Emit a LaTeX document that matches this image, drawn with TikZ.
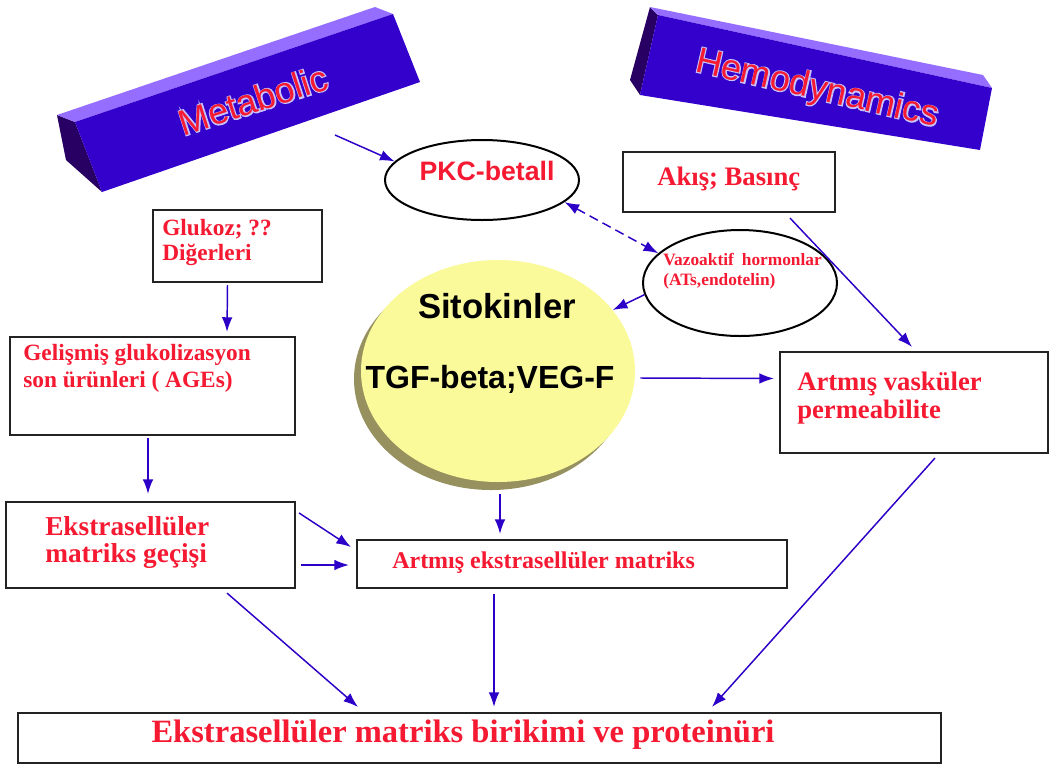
\documentclass[tikz,border=0pt]{standalone}
\usepackage{fontspec}
\setmainfont{Liberation Serif}
\newfontfamily\arialf{Liberation Sans}
\newfontfamily\arialhalo{Liberation Sans}[FakeBold=6]
\usetikzlibrary{arrows.meta,shapes.geometric,calc,fit}
\definecolor{tred}{RGB}{245,25,50}
\definecolor{arrc}{RGB}{45,0,200}
\definecolor{boxc}{RGB}{35,35,35}
\definecolor{barfront}{RGB}{51,0,204}
\definecolor{bartop}{RGB}{150,110,255}
\definecolor{bardark}{RGB}{40,0,100}
\definecolor{yel}{RGB}{250,250,155}
\definecolor{shad}{RGB}{150,145,95}
\definecolor{glow}{RGB}{200,195,255}
\begin{document}
\begin{tikzpicture}[x=0.75pt,y=-0.75pt,
  box/.style={draw=boxc, line width=1.6pt, rectangle, inner sep=0pt},
  ell/.style={draw=black, line width=1.5pt, ellipse, inner sep=0pt},
  arr/.style={draw=arrc, line width=1.1pt, -{Latex[length=11pt,width=8pt]}},
  lbl/.style={text=tred, inner sep=0pt, anchor=base west, font=\bfseries},
  bartxt/.style={inner sep=0pt, font=\arialf\fontsize{27pt}{30pt}\selectfont},
  halotxt/.style={inner sep=0pt, text=glow, font=\arialhalo\fontsize{27pt}{30pt}\selectfont}]
\useasboundingbox (0,0) rectangle (1051,765);
\fill[white] (0,0) rectangle (1051,765);

% ---- Metabolic bar
\fill[bardark] (57,115) -- (75,122) -- (102,192) -- (66,160) -- cycle;
\fill[bartop] (57,115) -- (375,7) -- (393,14) -- (75,122) -- cycle;
\fill[barfront] (75,122) -- (393,14) -- (420,82) -- (102,192) -- cycle;
\node[halotxt, rotate=18] (metabolichalo) at (253,100) {Metabolic};
\node[bartxt, rotate=18, text=tred] (metabolic) at (253,100) {Metabolic};

% ---- Hemodynamics bar
\fill[bardark] (650,7) -- (658,15) -- (640,95) -- (630,80) -- cycle;
\fill[bartop] (650,7) -- (983,75) -- (992,88) -- (658,15) -- cycle;
\fill[barfront] (658,15) -- (992,88) -- (980,150) -- (640,95) -- cycle;
\node[halotxt, rotate=-13] (hemohalo) at (817,90) {Hemodynamics};
\node[bartxt, rotate=-13, text=tred] (hemo) at (817,90) {Hemodynamics};

% ---- Ellipses
\node[ell, minimum width=194*0.75pt, minimum height=80*0.75pt] (pkc) at (482,180) {};
\node[inner sep=0pt, anchor=base, text=tred, font=\arialf\bfseries\fontsize{20pt}{24pt}\selectfont] (pkct) at (487,180) {PKC-betall};
\node[ell, minimum width=194*0.75pt, minimum height=106*0.75pt] (vazo) at (740,283) {};
\node[lbl, font=\bfseries\fontsize{13pt}{15pt}\selectfont] (vazo1) at (663,265) {Vazoaktif\hspace{6pt}hormonlar};
\node[lbl, font=\bfseries\fontsize{13pt}{15pt}\selectfont] (vazo2) at (663,285) {(ATs,endotelin)};

% ---- Sitokinler circle
\node[ellipse, fill=shad, inner sep=0pt, minimum width=274*0.75pt, minimum height=222*0.75pt] (sitoshadow) at (491,379) {};
\node[ellipse, fill=yel, inner sep=0pt, minimum width=274*0.75pt, minimum height=222*0.75pt] (sito) at (498,371) {};
\node[inner sep=0pt, anchor=base, font=\arialf\bfseries\fontsize{26pt}{30pt}\selectfont] (sito1) at (497,318) {Sitokinler};
\node[inner sep=0pt, anchor=base, font=\arialf\bfseries\fontsize{24pt}{28pt}\selectfont] (sito2) at (490,388) {TGF-beta;VEG-F};

% ---- Boxes
\node[box, fit={(623,152)(835,212)}] (akis) {};
\node[lbl, font=\bfseries\fontsize{20pt}{24pt}\selectfont] (akist) at (657,185) {Akış; Basınç};

\node[box, fit={(153,210)(322,282)}] (gluk) {};
\node[lbl, font=\bfseries\fontsize{17.5pt}{20pt}\selectfont] (gluk1) at (162,235) {Glukoz; ??};
\node[lbl, font=\bfseries\fontsize{17.5pt}{20pt}\selectfont] (gluk2) at (162,260) {Diğerleri};

\node[box, fit={(10,337)(295,435)}] (gel) {};
\node[lbl, font=\bfseries\fontsize{17.5pt}{20pt}\selectfont] (gel1) at (23,360) {Gelişmiş glukolizasyon};
\node[lbl, font=\bfseries\fontsize{17.5pt}{20pt}\selectfont] (gel2) at (23,387) {son ürünleri ( AGEs)};

\node[box, fit={(780,352)(1048,453)}] (perm) {};
\node[lbl, font=\bfseries\fontsize{20pt}{24pt}\selectfont] (perm1) at (797,390) {Artmış vasküler};
\node[lbl, font=\bfseries\fontsize{20pt}{24pt}\selectfont] (perm2) at (797,418) {permeabilite};

\node[box, fit={(6,502)(295,588)}] (gecis) {};
\node[lbl, font=\bfseries\fontsize{20.5pt}{24pt}\selectfont] (gecis1) at (45,535) {Ekstrasellüler};
\node[lbl, font=\bfseries\fontsize{20.5pt}{24pt}\selectfont] (gecis2) at (45,562) {matriks geçişi};

\node[box, fit={(357,540)(787,588)}] (artm) {};
\node[lbl, font=\bfseries\fontsize{18pt}{22pt}\selectfont] (artmt) at (392,568) {Artmış ekstrasellüler matriks};

\node[box, fit={(18,713)(941,763)}] (bottom) {};
\node[lbl, anchor=base, font=\bfseries\fontsize{24.4pt}{28pt}\selectfont] (bottomt) at (463,742) {Ekstrasellüler matriks birikimi ve proteinüri};

% ---- Connectors
\coordinate (metA) at (335,135);
\draw[arr] (metA) -- (pkc.168);
\draw[arr, dashed, dash pattern=on 7pt off 4pt, {Latex[length=11pt,width=8pt]}-{Latex[length=11pt,width=8pt]}] (pkc.-15) -- (vazo.160);
\draw[arr] (vazo.187) -- (sito.28);
\draw[arr] ($(sito.east)+(5,7)$) -- ($(perm.west)+(-5,-24)$);
\draw[arr] ($(akis.south)+(61,5)$) -- ($(perm.north)+(-2,-4)$);
\draw[arr] ($(gluk.south)+(-10,2)$) -- ($(gel.north)+(74.5,-4)$);
\draw[arr] ($(gel.south)+(-4.5,2)$) -- ($(gecis.north)+(-2.5,-7)$);
\draw[arr] ($(sito.south)+(2,12)$) -- ($(artm.north)+(-72,-5)$);
\draw[arr] ($(gecis.east)+(3,-32)$) -- ($(artm.west)+(-5,-17)$);
\draw[arr] ($(gecis.east)+(5,20)$) -- ($(artm.west)+(-7,1)$);
\draw[arr] ($(gecis.south)+(76.5,4)$) -- ($(bottom.north)+(-121.5,-5)$);
\draw[arr] ($(artm.south)+(-78,5)$) -- ($(bottom.north)+(14.5,-5)$);
\draw[arr] ($(perm.south)+(21,4)$) -- ($(bottom.north)+(232.5,-5)$);
\end{tikzpicture}
\end{document}
